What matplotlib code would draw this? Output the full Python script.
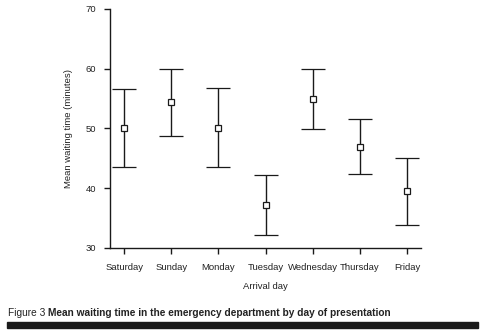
import matplotlib
matplotlib.use('Agg')
import matplotlib.pyplot as plt
from matplotlib.patches import Rectangle

plt.rcParams['font.family'] = ['Liberation Sans', 'DejaVu Sans']

# valores
days = ['Saturday', 'Sunday', 'Monday', 'Tuesday', 'Wednesday', 'Thursday', 'Friday']
mean_wait = [50.0, 54.4, 50.0, 37.2, 54.9, 46.9, 39.5]
upper = [56.6, 60.0, 56.7, 42.2, 59.9, 51.6, 45.0]
lower = [43.5, 48.7, 43.5, 32.2, 49.9, 42.4, 33.8]

err_low = [m - l for m, l in zip(mean_wait, lower)]
err_up = [u - m for u, m in zip(upper, mean_wait)]

fig = plt.figure(figsize=(4.89, 3.31), dpi=100)
ax = fig.add_axes([0.225, 0.251, 0.636, 0.722])

x = list(range(len(days)))
ax.errorbar(x, mean_wait, yerr=[err_low, err_up], fmt='s', color='#1a1a1a',
            mfc='white', mec='#1a1a1a', ms=4, mew=0.9, elinewidth=1.0,
            capsize=8.3, capthick=1.0)

ax.set_xlim(-0.3, 6.3)
ax.set_ylim(30, 70)
ax.set_yticks([30, 40, 50, 60, 70])
ax.set_xticks(x)
ax.set_xticklabels(days)
ax.spines['top'].set_visible(False)
ax.spines['right'].set_visible(False)
for s in ['left', 'bottom']:
    ax.spines[s].set_linewidth(1.0)
    ax.spines[s].set_color('#1a1a1a')
ax.tick_params(axis='both', length=4, width=1.0, color='#1a1a1a',
               labelsize=6.8, labelcolor='#222222', pad=6)
ax.tick_params(axis='x', pad=7)

ax.set_ylabel('Mean waiting time (minutes)', fontsize=6.8, color='#222222', labelpad=9)
ax.set_xlabel('Arrival day', fontsize=6.8, color='#222222', labelpad=7)

t1 = fig.text(8 / 489, 1 - 316 / 331, 'Figure 3 ', fontsize=7.3, color='#222222',
              ha='left', va='baseline')
ax.annotate('Mean waiting time in the emergency department by day of presentation',
            xy=(1, 0), xycoords=t1, fontsize=7.3, weight='bold', color='#222222',
            ha='left', va='bottom', annotation_clip=False)

fig.patches.append(Rectangle((7 / 489, 1 - 328 / 331), 471 / 489, 6 / 331,
                             transform=fig.transFigure, color='#1a1a1a'))

fig.savefig('out.png', dpi=100)
